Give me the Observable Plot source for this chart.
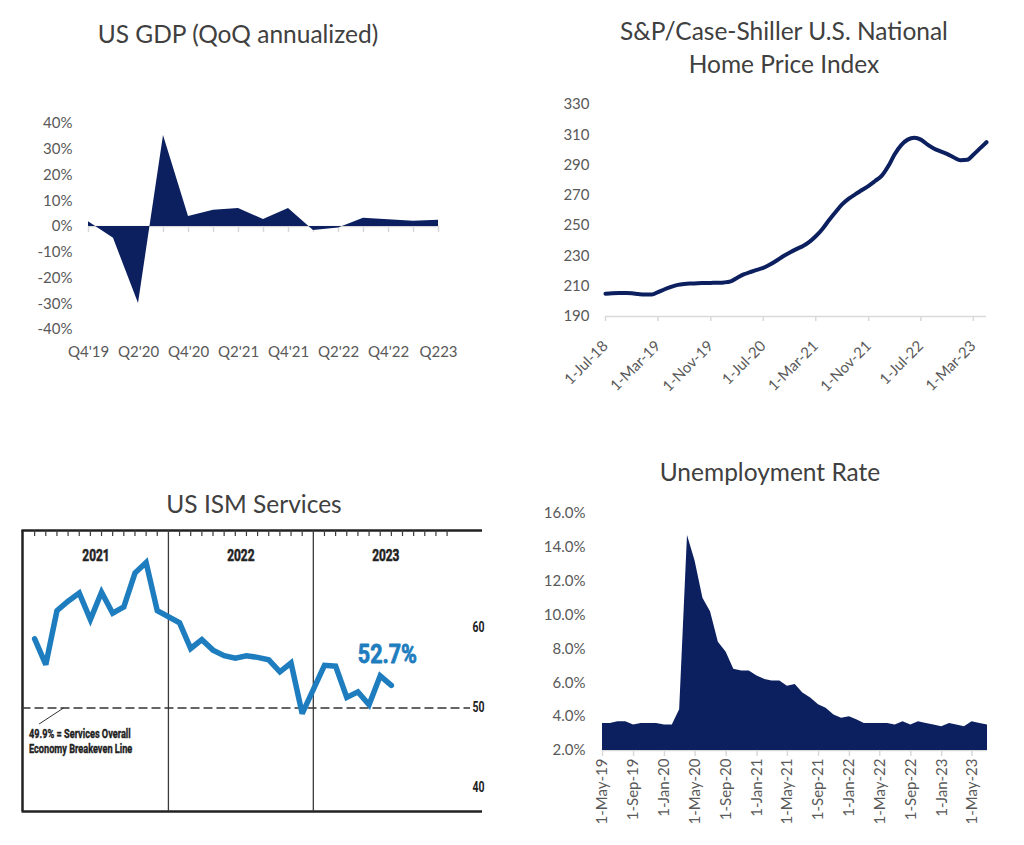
<!DOCTYPE html>
<html>
<head>
<meta charset="utf-8">
<script src="https://cdn.jsdelivr.net/npm/d3@7"></script>
<script src="https://cdn.jsdelivr.net/npm/@observablehq/plot@0.6"></script>
<style>
  body { margin: 0; background: #ffffff; }
  #page { position: relative; width: 1024px; height: 845px; overflow: hidden; font-family: Lato, "Open Sans", sans-serif; }
  .title { position: absolute; text-align: center; color: #404040; font-size: 24.5px; line-height: 33px; white-space: nowrap; }
  .panel { position: absolute; }
  .panel svg { overflow: visible; }
</style>
</head>
<body>
<div id="page">
  <div class="title" style="left:0px; width:476px; top:17px;">US GDP (QoQ annualized)</div>
  <div class="title" style="left:534px; width:500px; top:14px;">S&amp;P/Case-Shiller U.S. National<br>Home Price Index</div>
  <div class="title" style="left:4px; width:500px; top:487px;">US ISM Services</div>
  <div class="title" style="left:520px; width:500px; top:455px;">Unemployment Rate</div>
  <div class="panel" id="gdp" style="left:0px; top:100px;"></div>
  <div class="panel" id="hpi" style="left:520px; top:90px;"></div>
  <div class="panel" id="ism" style="left:0px; top:480px;"></div>
  <div class="panel" id="unemp" style="left:520px; top:490px;"></div>
</div>
<script>
// ---------------- DATA ----------------
// US GDP, QoQ annualized (%)
const gdpQuarters = ["Q4'19","Q1'20","Q2'20","Q3'20","Q4'20","Q1'21","Q2'21","Q3'21","Q4'21","Q1'22","Q2'22","Q3'22","Q4'22","Q1'23","Q223"];
const gdpGrowth   = [1.8, -4.6, -29.9, 35.3, 3.9, 6.3, 7.0, 2.7, 7.0, -1.6, -0.6, 3.2, 2.6, 2.0, 2.4];
const gdpTicks    = [-40, -30, -20, -10, 0, 10, 20, 30, 40];

// S&P/Case-Shiller U.S. National Home Price Index, monthly from Jul 2018
const hpiStart  = "2018-07-01";
const hpiValues = [
  205.0, 205.4, 205.6, 205.5, 205.3, 204.8,
  204.5, 204.5, 206.1, 208.0, 209.6, 210.9, 211.5, 211.8, 212.0, 212.1, 212.2, 212.3,
  212.5, 213.2, 215.5, 217.8, 219.3, 220.8, 222.1, 224.3, 227.0, 229.8, 232.3, 234.5,
  236.6, 239.5, 243.0, 247.8, 253.5, 259.0, 264.0, 267.8, 270.8, 273.5, 276.3, 279.5,
  283.0, 289.5, 297.0, 303.2, 306.8, 308.0, 306.8, 303.5, 300.8, 299.0, 297.2, 295.0,
  293.2, 293.5, 296.8, 301.0, 305.1
];
const hpiTickLabels = ["1-Jul-18","1-Mar-19","1-Nov-19","1-Jul-20","1-Mar-21","1-Nov-21","1-Jul-22","1-Mar-23"];
const hpiYTicks = [190, 210, 230, 250, 270, 290, 310, 330];

// US ISM Services PMI, monthly from Jan 2021
const ismYears  = [2021, 2022, 2023];
const ismValues = [
  58.5, 55.3, 62.0, 63.2, 64.2, 60.9, 64.3, 61.7, 62.5, 66.7, 68.0, 62.0,
  60.5, 57.3, 58.4, 57.1, 56.4, 56.1, 56.4, 56.2, 55.9, 54.4, 55.5, 49.2,
  55.2, 55.1, 51.2, 51.9, 50.3, 53.9, 52.7
];
const ismBreakeven = 49.9;
const ismAxisTicks = [40, 50, 60];
const ismLatestLabel = "52.7%";
const ismNote = "49.9% = Services Overall\nEconomy Breakeven Line";

// US Unemployment rate (%), monthly from May 2019
const unempStart  = "2019-05-01";
const unempValues = [
  3.6, 3.6, 3.7, 3.7, 3.5, 3.6, 3.6, 3.6,
  3.5, 3.5, 4.4, 14.7, 13.2, 11.0, 10.2, 8.4, 7.8, 6.8, 6.7, 6.7,
  6.4, 6.2, 6.1, 6.1, 5.8, 5.9, 5.4, 5.1, 4.7, 4.5, 4.1, 3.9,
  4.0, 3.8, 3.6, 3.6, 3.6, 3.6, 3.5, 3.7, 3.5, 3.7, 3.6, 3.5,
  3.4, 3.6, 3.5, 3.4, 3.7, 3.6, 3.5
];
const unempTickLabels = ["1-May-19","1-Sep-19","1-Jan-20","1-May-20","1-Sep-20","1-Jan-21","1-May-21","1-Sep-21","1-Jan-22","1-May-22","1-Sep-22","1-Jan-23","1-May-23"];
const unempYTicks = [2, 4, 6, 8, 10, 12, 14, 16];

// ---------------- STYLES ----------------
const NAVY = "#0c2060";
const AXIS_GRAY = "#d9d9d9";
const TEXT_GRAY = "#595959";
const ISM_BLUE = "#1e7dbe";
const ISM_INK = "#222222";
const excelStyle = {fontFamily: "Lato, 'Open Sans', sans-serif", fontSize: "15px", color: TEXT_GRAY, background: "transparent", overflow: "visible"};
const condensed = "Roboto, 'DejaVu Sans', sans-serif";

const parseTick = d3.utcParse("%d-%b-%y");
const fmtTick = d3.utcFormat("%-d-%b-%y");
const monthly = (start, values) => values.map((v, i) => ({date: d3.utcMonth.offset(new Date(start), i), value: v}));

// horizontally condense a text element around its own anchor (mimics a condensed typeface)
function condense(t, s) {
  const x = +(t.getAttribute("x") || 0);
  const tr = t.getAttribute("transform") || "";
  t.setAttribute("transform", `${tr} translate(${x},0) scale(${s},1) translate(${-x},0)`);
}

// ---------------- GDP ----------------
const gdpData = gdpQuarters.map((q, i) => ({quarter: q, value: gdpGrowth[i]}));
document.getElementById("gdp").append(Plot.plot({
  width: 480, height: 270,
  marginLeft: 88, marginRight: 42, marginTop: 23, marginBottom: 41,
  style: excelStyle,
  x: {type: "point", domain: gdpQuarters, padding: 0, ticks: gdpQuarters.filter((d, i) => i % 2 === 0),
      tickSize: 0, tickPadding: 17, label: null},
  y: {domain: [-40, 40], ticks: gdpTicks, tickFormat: d => d + "%", tickSize: 0, tickPadding: 16, label: null},
  marks: [
    Plot.ruleY([0], {stroke: AXIS_GRAY, strokeWidth: 1.5}),
    Plot.ruleX(gdpQuarters, {x: d => d, y1: 0, y2: 0, insetBottom: -6, stroke: AXIS_GRAY, strokeWidth: 1.5}),
    Plot.areaY(gdpData, {x: "quarter", y: "value", fill: NAVY})
  ]
}));

// ---------------- HOME PRICE INDEX ----------------
const hpiData = monthly(hpiStart, hpiValues);
const hpiTicks = hpiTickLabels.map(parseTick);
document.getElementById("hpi").append(Plot.plot({
  width: 500, height: 330,
  marginLeft: 85, marginRight: 34, marginTop: 14, marginBottom: 104,
  style: excelStyle,
  x: {type: "utc", domain: [hpiData[0].date, hpiData[hpiData.length - 1].date], ticks: hpiTicks,
      tickFormat: fmtTick, tickRotate: -45, tickSize: 0, tickPadding: 27, label: null},
  y: {domain: [190, 330], ticks: hpiYTicks, tickSize: 0, tickPadding: 16, label: null},
  marks: [
    Plot.ruleY([190], {stroke: AXIS_GRAY, strokeWidth: 1.5}),
    Plot.ruleX(hpiTicks, {x: d => d, y1: 190, y2: 190, insetBottom: -5, stroke: AXIS_GRAY, strokeWidth: 1.5}),
    Plot.line(hpiData, {x: "date", y: "value", stroke: NAVY, strokeWidth: 4, curve: "monotone-x", strokeLinecap: "round"})
  ]
}));

// ---------------- ISM SERVICES ----------------
// each year occupies 13 slots: 12 months plus a gap slot at the year boundary
const SLOTS_PER_YEAR = 13;
const ismData = ismValues.map((v, i) => ({slot: Math.floor(i / 12) * SLOTS_PER_YEAR + (i % 12) + 1, value: v}));
const ismMonthSlots = ismYears.flatMap((y, yi) => d3.range(12).map(m => yi * SLOTS_PER_YEAR + m + 1));
const ismDividers = ismYears.slice(1).map((y, yi) => (yi + 1) * SLOTS_PER_YEAR);
const ismYearLabels = ismYears.map((y, yi) => ({slot: yi * SLOTS_PER_YEAR + SLOTS_PER_YEAR / 2, text: String(y)}));
const ismLast = ismData[ismData.length - 1];
const ismTop = 72, ismBottom = 37;
const bold = {fontWeight: "bold", stroke: ISM_INK, strokeWidth: 0.6, fill: ISM_INK};
const ismSvg = Plot.plot({
  width: 490, height: 341,
  marginLeft: 23, marginRight: 20, marginTop: 50, marginBottom: 10,
  style: {fontFamily: condensed, fontSize: "15px", fontWeight: "bold", color: ISM_INK, background: "transparent", overflow: "visible"},
  x: {domain: [0, 40.1], axis: null},
  y: {domain: [ismBottom, ismTop], axis: "right", ticks: ismAxisTicks, tickSize: 0, tickPadding: 2, label: null},
  marks: [
    Plot.ruleY([ismTop], {stroke: ISM_INK, strokeWidth: 2.5, insetLeft: -1.5, insetRight: -12}),
    Plot.ruleY([ismBottom], {stroke: ISM_INK, strokeWidth: 2.5, insetLeft: -1.5, insetRight: -12}),
    Plot.ruleX([0], {stroke: ISM_INK, strokeWidth: 2.5, dx: -1}),
    Plot.ruleX(ismDividers, {x: d => d, stroke: "#3a3a3a", strokeWidth: 1.3}),
    Plot.ruleX(ismMonthSlots, {x: d => d, y1: ismTop, y2: ismTop, insetBottom: -6, stroke: "#3a3a3a", strokeWidth: 1.2}),
    Plot.ruleY([ismBreakeven], {stroke: "#333", strokeWidth: 1.5, strokeDasharray: "9,4", insetLeft: -1.5}),
    Plot.text(ismYearLabels, {x: "slot", text: "text", frameAnchor: "top", dy: 18, fontSize: 17, ...bold}),
    Plot.link([{x1: 1.4, y1: 47.9, x2: 3.6, y2: ismBreakeven}], {x1: "x1", y1: "y1", x2: "x2", y2: "y2", stroke: "#333", strokeWidth: 1}),
    Plot.text([ismNote], {text: d => d, y: ismBreakeven, frameAnchor: "left", textAnchor: "start", lineAnchor: "top",
      dx: 5.5, dy: 19, fontSize: 13.5, lineHeight: 1.12, ...bold, strokeWidth: 0.4}),
    Plot.line(ismData, {x: "slot", y: "value", stroke: ISM_BLUE, strokeWidth: 5.5, strokeLinejoin: "miter", strokeMiterlimit: 3}),
    Plot.text([ismLast], {x: "slot", y: "value", text: () => ismLatestLabel, dx: -4, dy: -30, fontSize: 25,
      fontWeight: "bold", fill: ISM_BLUE, stroke: ISM_BLUE, strokeWidth: 0.8})
  ]
});
ismSvg.querySelectorAll("text").forEach(t => {
  const txt = t.textContent;
  condense(t, txt === ismLatestLabel ? 0.86 : txt.startsWith("49.9%") ? 0.68 : 0.7);
});
document.getElementById("ism").append(ismSvg);

// ---------------- UNEMPLOYMENT ----------------
const unempData = monthly(unempStart, unempValues);
const unempTicks = unempTickLabels.map(parseTick);
document.getElementById("unemp").append(Plot.plot({
  width: 500, height: 350,
  marginLeft: 82, marginRight: 33, marginTop: 23, marginBottom: 90,
  style: excelStyle,
  x: {type: "utc", domain: [unempData[0].date, unempData[unempData.length - 1].date], ticks: unempTicks,
      tickFormat: fmtTick, tickRotate: -90, tickSize: 0, tickPadding: 8, label: null},
  y: {domain: [2, 16], ticks: unempYTicks, tickFormat: d => d.toFixed(1) + "%", tickSize: 0, tickPadding: 17, label: null},
  marks: [
    Plot.ruleY([2], {stroke: AXIS_GRAY, strokeWidth: 1.5}),
    Plot.ruleX(unempTicks, {x: d => d, y1: 2, y2: 2, insetBottom: -6, stroke: AXIS_GRAY, strokeWidth: 1.5}),
    Plot.areaY(unempData, {x: "date", y1: 2, y2: "value", fill: NAVY})
  ]
}));
</script>
</body>
</html>
